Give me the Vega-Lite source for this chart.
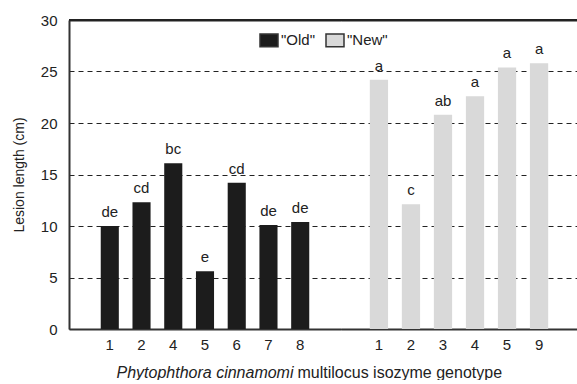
{
  "$schema": "https://vega.github.io/schema/vega-lite/v6.json",
  "background": "white",
  "padding": {"left": 12, "top": 13, "right": 0, "bottom": 0},
  "spacing": 0,
  "bounds": "flush",
  "config": {
    "font": "Liberation Sans",
    "view": {"stroke": null},
    "axis": {
      "labelFont": "Liberation Sans",
      "titleFont": "Liberation Sans",
      "labelColor": "#222",
      "titleColor": "#222",
      "titleFontWeight": "normal",
      "domainColor": "#333",
      "domainWidth": 2,
      "ticks": false
    },
    "legend": {"labelFont": "Liberation Sans"}
  },
  "datasets": {
    "bars": [
      {"group": "Old", "genotype": 1, "length": 10.0, "letter": "de"},
      {"group": "Old", "genotype": 2, "length": 12.3, "letter": "cd"},
      {"group": "Old", "genotype": 4, "length": 16.1, "letter": "bc"},
      {"group": "Old", "genotype": 5, "length": 5.6, "letter": "e"},
      {"group": "Old", "genotype": 6, "length": 14.2, "letter": "cd"},
      {"group": "Old", "genotype": 7, "length": 10.1, "letter": "de"},
      {"group": "Old", "genotype": 8, "length": 10.4, "letter": "de"},
      {"group": "New", "genotype": 1, "length": 24.2, "letter": "a"},
      {"group": "New", "genotype": 2, "length": 12.1, "letter": "c"},
      {"group": "New", "genotype": 3, "length": 20.8, "letter": "ab"},
      {"group": "New", "genotype": 4, "length": 22.6, "letter": "a"},
      {"group": "New", "genotype": 5, "length": 25.4, "letter": "a"},
      {"group": "New", "genotype": 9, "length": 25.8, "letter": "a"}
    ],
    "frame": [{"limit": 30}]
  },
  "resolve": {"scale": {"color": "independent", "y": "shared", "x": "independent"}},
  "hconcat": [
    {
      "width": 272,
      "height": 309,
      "resolve": {"scale": {"x": "independent"}, "axis": {"x": "independent"}},
      "layer": [
        {
          "data": {"name": "bars"},
          "transform": [{"filter": "datum.group === 'Old'"}],
          "encoding": {
            "x": {
              "field": "genotype",
              "type": "ordinal",
              "scale": {"paddingInner": 0.43, "paddingOuter": 1.0},
              "axis": {
                "orient": "bottom",
                "title": "Phytophthora cinnamomi",
                "titleFontStyle": "italic",
                "titleFontSize": 16,
                "titleX": 224,
                "titleAlign": "right",
                "titlePadding": 12,
                "labelAngle": 0,
                "labelFontSize": 15,
                "labelPadding": 8
              }
            },
            "y": {
              "field": "length",
              "type": "quantitative",
              "scale": {"domain": [0, 30]},
              "axis": {
                "title": "Lesion length (cm)",
                "titleFontSize": 14,
                "titlePadding": 14,
                "values": [0, 5, 10, 15, 20, 25, 30],
                "labelFontSize": 15,
                "labelPadding": 12,
                "grid": true,
                "gridColor": "#222",
                "gridOpacity": 1,
                "gridDash": [5, 4]
              }
            }
          },
          "layer": [
            {
              "mark": {"type": "bar"},
              "encoding": {
                "color": {
                  "field": "group",
                  "type": "nominal",
                  "scale": {"domain": ["Old", "New"], "range": ["#1c1c1c", "#d9d9d9"]},
                  "legend": {
                    "title": null,
                    "orient": "none",
                    "legendX": 190,
                    "legendY": 10,
                    "direction": "horizontal",
                    "symbolType": "M-1,-0.7H1V0.7H-1Z",
                    "symbolSize": 324,
                    "symbolStrokeColor": "#333",
                    "symbolStrokeWidth": 1.5,
                    "symbolOpacity": 1,
                    "labelFontSize": 15,
                    "labelColor": "#222",
                    "labelOffset": 2,
                    "columnPadding": 8,
                    "labelExpr": "'\"' + datum.label + '\"'"
                  }
                }
              }
            },
            {
              "mark": {"type": "text", "dy": -9, "baseline": "alphabetic", "fontSize": 15, "color": "#222"},
              "encoding": {"text": {"field": "letter"}}
            }
          ]
        },
        {
          "data": {"name": "frame"},
          "mark": {"type": "rule", "opacity": 0},
          "encoding": {
            "x": {
              "field": "limit",
              "type": "quantitative",
              "axis": {"orient": "top", "labels": false, "ticks": false, "grid": false, "title": null, "domain": true, "domainColor": "#222", "domainWidth": 2}
            },
            "y": {"field": "limit", "type": "quantitative"}
          }
        },
        {
          "data": {"name": "frame"},
          "mark": {"type": "rule", "color": "#222", "strokeWidth": 2},
          "encoding": {"y": {"datum": 30}}
        }
      ]
    },
    {
      "width": 236,
      "height": 309,
      "resolve": {"scale": {"x": "independent"}, "axis": {"x": "independent"}},
      "layer": [
        {
          "data": {"name": "bars"},
          "transform": [{"filter": "datum.group === 'New'"}],
          "encoding": {
            "x": {
              "field": "genotype",
              "type": "ordinal",
              "scale": {"paddingInner": 0.43, "paddingOuter": 0.9},
              "axis": {
                "orient": "bottom",
                "title": "multilocus isozyme genotype",
                "titleFontSize": 16,
                "titleX": -44,
                "titleAlign": "left",
                "titlePadding": 12,
                "labelAngle": 0,
                "labelFontSize": 15,
                "labelPadding": 8
              }
            },
            "y": {
              "field": "length",
              "type": "quantitative",
              "scale": {"domain": [0, 30]},
              "axis": {
                "title": null,
                "labels": false,
                "domain": false,
                "values": [0, 5, 10, 15, 20, 25, 30],
                "grid": true,
                "gridColor": "#222",
                "gridOpacity": 1,
                "gridDash": [5, 4]
              }
            }
          },
          "layer": [
            {
              "mark": {"type": "bar"},
              "encoding": {
                "color": {
                  "field": "group",
                  "type": "nominal",
                  "scale": {"domain": ["Old", "New"], "range": ["#1c1c1c", "#d9d9d9"]},
                  "legend": null
                }
              }
            },
            {
              "mark": {"type": "text", "dy": -9, "baseline": "alphabetic", "fontSize": 15, "color": "#222"},
              "encoding": {"text": {"field": "letter"}}
            }
          ]
        },
        {
          "data": {"name": "frame"},
          "mark": {"type": "rule", "opacity": 0},
          "encoding": {
            "x": {
              "field": "limit",
              "type": "quantitative",
              "axis": {"orient": "top", "labels": false, "ticks": false, "grid": false, "title": null, "domain": true, "domainColor": "#222", "domainWidth": 2}
            },
            "y": {"field": "limit", "type": "quantitative"}
          }
        },
        {
          "data": {"name": "frame"},
          "mark": {"type": "rule", "color": "#222", "strokeWidth": 2},
          "encoding": {"y": {"datum": 30}}
        }
      ]
    }
  ]
}
